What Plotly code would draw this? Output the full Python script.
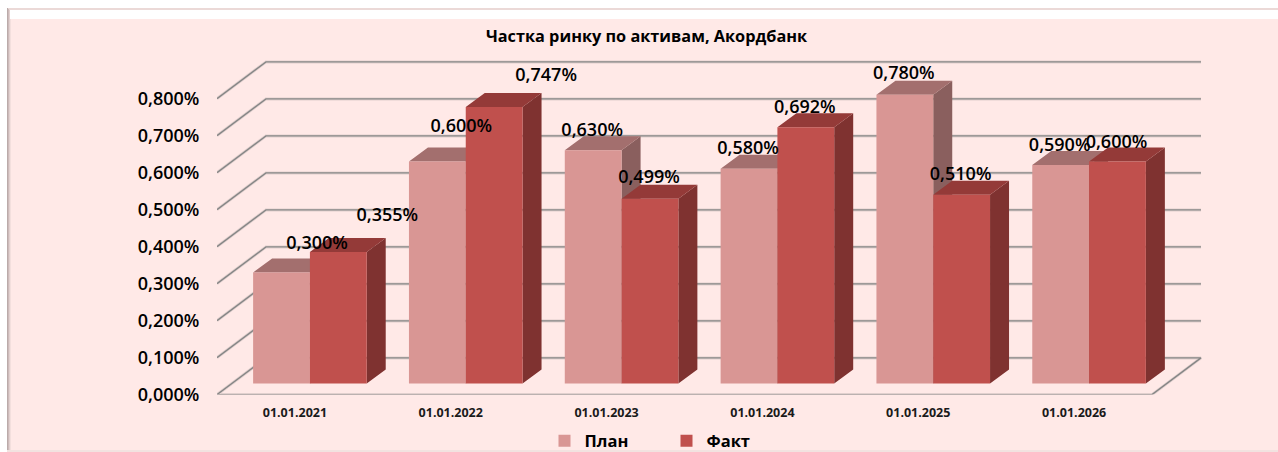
import plotly.graph_objects as go

# ---------- data ----------
CATEGORIES = ["01.01.2021", "01.01.2022", "01.01.2023", "01.01.2024", "01.01.2025", "01.01.2026"]
PLAN = [0.300, 0.600, 0.630, 0.580, 0.780, 0.590]
FACT = [0.355, 0.747, 0.499, 0.692, 0.510, 0.600]
TICKS = [0.0, 0.1, 0.2, 0.3, 0.4, 0.5, 0.6, 0.7, 0.8]

# ---------- layout constants (pixels of the 1278x452 page) ----------
W, H = 1278, 452
PX_X0, PX_Y0 = 217.0, 394.6          # front corner of the floor
PX_PER_CAT = 155.83
PX_PER_UNIT = 370.0
PX_RIGHT, PX_TOP = 1206.0, 50.0


def xu(px):
    return px / PX_PER_CAT


def yu(px):
    return px / PX_PER_UNIT


def pct(v):
    return f"{v:.3f}%".replace(".", ",")


FLOOR_DX, FLOOR_DY = xu(49), yu(36.7)
BAR_SHIFT_X, BAR_BASE = xu(15.0), yu(11.2)
BAR_W = xu(56.8)
SIDE_DX, SIDE_DY = xu(19), yu(14)

# label displacement from the middle of a bar's top front edge, in pixels
PLAN_LABEL_SHIFT = [(35.5, -28), (24, -34), (-1, -19), (-1, -19), (-1, -20), (-1, -19)]
FACT_LABEL_SHIFT = [(49, -36), (52, -31), (-1, -20), (-1, -19), (-1, -19), (-1, -18)]

C_PLAN, C_PLAN_TOP, C_PLAN_SIDE = "#D99694", "#A36F6E", "#8A5F5E"
C_FACT, C_FACT_TOP, C_FACT_SIDE = "#C0504D", "#943A38", "#7F3230"
GRID = "#868686"
FONT = "Open Sans"

fig = go.Figure()


def add_grid(width, color):
    xs, ys = [], []
    n = len(CATEGORIES)
    for v in TICKS:
        if v == 0:
            xs += [0, FLOOR_DX, n + FLOOR_DX, n, 0, None]
            ys += [0, FLOOR_DY, FLOOR_DY, 0, 0, None]
        else:
            xs += [0, FLOOR_DX, n + FLOOR_DX, None]
            ys += [v, v + FLOOR_DY, v + FLOOR_DY, None]
    fig.add_trace(go.Scatter(x=xs, y=ys, mode="lines", line=dict(color=color, width=width),
                             showlegend=False, hoverinfo="skip", zorder=0))


add_grid(3, "rgba(120,120,120,0.22)")
add_grid(1.4, GRID)


def add_series(name, values, offset, color, top_color, side_color, z):
    left = [i + 0.5 + BAR_SHIFT_X + offset for i in range(len(values))]
    sx, sy, tx, ty = [], [], [], []
    for l, v in zip(left, values):
        r = l + BAR_W
        b, t = BAR_BASE, BAR_BASE + v
        sx += [r, r + SIDE_DX, r + SIDE_DX, r, r, None]
        sy += [b, b + SIDE_DY, t + SIDE_DY, t, b, None]
        tx += [l, l + SIDE_DX, r + SIDE_DX, r, l, None]
        ty += [t, t + SIDE_DY, t + SIDE_DY, t, t, None]
    for xs, ys, col in ((sx, sy, side_color), (tx, ty, top_color)):
        fig.add_trace(go.Scatter(x=xs, y=ys, mode="lines", fill="toself", fillcolor=col,
                                 line=dict(width=0, color=col), showlegend=False,
                                 hoverinfo="skip", zorder=z))
    fig.add_trace(go.Bar(name=name, x=[l + BAR_W / 2 for l in left], y=values, base=BAR_BASE,
                         width=BAR_W, marker=dict(color=color, line=dict(width=0)),
                         zorder=z + 1))


add_series("План", PLAN, -BAR_W, C_PLAN, C_PLAN_TOP, C_PLAN_SIDE, 1)
add_series("Факт", FACT, 0, C_FACT, C_FACT_TOP, C_FACT_SIDE, 3)


def add_labels(values, offset, shifts):
    xs = [i + 0.5 + BAR_SHIFT_X + offset + BAR_W / 2 + xu(s[0]) for i, s in enumerate(shifts)]
    ys = [BAR_BASE + v - yu(s[1]) for v, s in zip(values, shifts)]
    fig.add_trace(go.Scatter(x=xs, y=ys, mode="text", text=[pct(v) for v in values],
                             textposition="middle center", cliponaxis=False,
                             textfont=dict(family=FONT, size=18, color="#000000", weight=600),
                             showlegend=False, hoverinfo="skip", zorder=6))


add_labels(PLAN, -BAR_W, PLAN_LABEL_SHIFT)
add_labels(FACT, 0, FACT_LABEL_SHIFT)


def rect(x0, y0, x1, y1, color):
    return dict(type="rect", xref="paper", yref="paper", layer="below",
                x0=x0 / W, x1=x1 / W, y0=1 - y0 / H, y1=1 - y1 / H,
                fillcolor=color, line=dict(width=0))


shapes = [
    rect(7, 8, W, H, "#FFE9E7"),
    rect(7, 8, W, 10, "#EBD9D7"),
    rect(9, 10, W, 19, "#FFFFFF"),
    rect(7, 8, 8, H, "#BBABAA"),
    rect(8, 9, 9, H, "#CDBBBA"),
    rect(9, 10, 10, H, "#E2D0CF"),
    rect(10, 19, 11, H, "#F3DFDD"),
    rect(7, 450, W, H, "#F2E2E0"),
]

fig.update_layout(
    width=W, height=H, autosize=False,
    margin=dict(l=0, r=0, t=0, b=0, pad=0, autoexpand=False),
    paper_bgcolor="#FFFFFF", plot_bgcolor="rgba(0,0,0,0)",
    barmode="overlay",
    shapes=shapes,
    font=dict(family=FONT, color="#000000"),
    title=dict(text="Частка ринку по активам, Акордбанк", x=646.5 / W, y=1 - 36 / H,
               xref="paper", yref="paper", xanchor="center", yanchor="middle",
               font=dict(family=FONT, size=16.3, weight=700, color="#000000")),
    xaxis=dict(domain=[PX_X0 / W, PX_RIGHT / W], range=[0, xu(PX_RIGHT - PX_X0)],
               tickmode="array", tickvals=[i + 0.5 for i in range(len(CATEGORIES))],
               ticktext=CATEGORIES, showgrid=False, zeroline=False, showline=False,
               ticks="outside", ticklen=6.5, tickcolor="rgba(0,0,0,0)",
               tickfont=dict(family=FONT, size=12.5, weight=700, color="#1a1a1a")),
    yaxis=dict(domain=[1 - PX_Y0 / H, 1 - PX_TOP / H], range=[0, yu(PX_Y0 - PX_TOP)],
               tickmode="array", tickvals=TICKS, ticktext=[pct(v) for v in TICKS],
               showgrid=False, zeroline=False, showline=False,
               ticks="outside", ticklen=13, tickcolor="rgba(0,0,0,0)",
               tickfont=dict(family=FONT, size=18, weight=600, color="#000000")),
    legend=dict(orientation="h", x=544.5 / W, y=1 - 441 / H, xanchor="left", yanchor="middle",
                bgcolor="rgba(0,0,0,0)", entrywidth=77, entrywidthmode="pixels",
                traceorder="normal",
                font=dict(family=FONT, size=16.5, weight=700, color="#000000")),
)

fig.write_html("out.html", config={"displayModeBar": False},
               post_script="document.body.style.margin='0';")
